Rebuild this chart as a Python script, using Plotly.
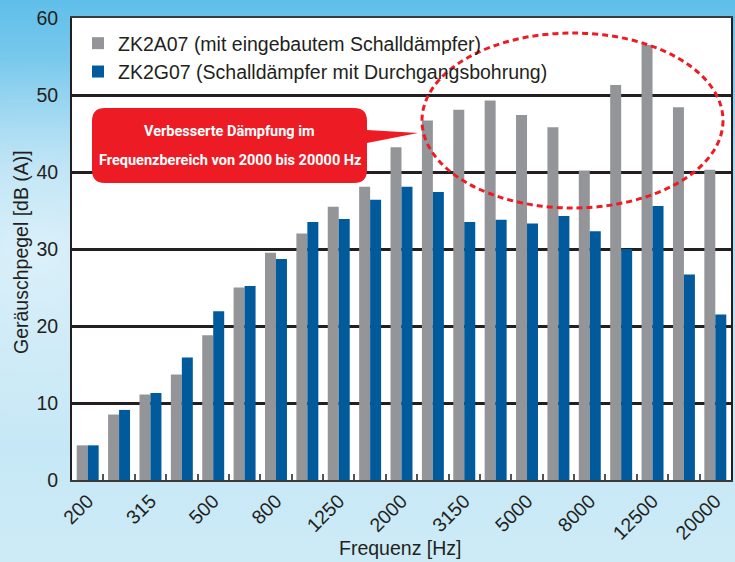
import base64
import plotly.graph_objects as go

# ---------------- data ----------------
freqs = ["200", "250", "315", "400", "500", "630", "800", "1000", "1250", "1600",
         "2000", "2500", "3150", "4000", "5000", "6300", "8000", "10000", "12500",
         "16000", "20000"]
zk2a07 = [4.5, 8.5, 11.1, 13.7, 18.8, 25.0, 29.5, 32.0, 35.5, 38.1, 43.2, 46.7,
          48.1, 49.3, 47.4, 45.8, 40.2, 51.3, 56.5, 48.4, 40.3]
zk2g07 = [4.5, 9.1, 11.3, 15.9, 21.9, 25.2, 28.7, 33.5, 33.9, 36.4, 38.1, 37.4,
          33.5, 33.8, 33.3, 34.3, 32.3, 30.0, 35.6, 26.7, 21.5]
tick_labels = [f if i % 2 == 0 else "" for i, f in enumerate(freqs)]
y_ticks = [0, 10, 20, 30, 40, 50, 60]

name_a = "ZK2A07 (mit eingebautem Schalldämpfer)"
name_g = "ZK2G07 (Schalldämpfer mit Durchgangsbohrung)"
callout_1 = "Verbesserte Dämpfung im"
callout_2 = "Frequenzbereich von 2000 bis 20000 Hz"
x_title = "Frequenz [Hz]"
y_title = "Geräuschpegel [dB (A)]"

# ---------------- geometry helpers ----------------
W, H = 735, 562
L, R, T, B = 72, 4, 18, 82
PW, PH = W - L - R, H - T - B


def px(x):
    return (x - L) / PW


def py(y):
    return (H - B - y) / PH


FONT = "Liberation Sans, Arial, Helvetica, sans-serif"
NARROW = "Roboto, Liberation Sans Narrow, Arial Narrow, sans-serif"
TXT = "#231f20"
GRAY = "#939598"
BLUE = "#005a9c"
RED = "#ed1c24"

fig = go.Figure()
fig.add_trace(go.Bar(x=freqs, y=zk2a07, name=name_a, marker_color=GRAY,
                     marker_line_width=0))
fig.add_trace(go.Bar(x=freqs, y=zk2g07, name=name_g, marker_color=BLUE,
                     marker_line_width=0))

# background gradient (decorative)
svg = f"""<svg xmlns='http://www.w3.org/2000/svg' width='{W}' height='{H}'>
<defs><linearGradient id='g' x1='0' y1='0' x2='0' y2='1'>
<stop offset='0' stop-color='#5fbfe9'/>
<stop offset='0.3' stop-color='#a6daf2'/>
<stop offset='0.7' stop-color='#c3e6f5'/>
<stop offset='1' stop-color='#cdebf7'/>
</linearGradient>
<radialGradient id='w' cx='0.05' cy='0.45' r='0.35'>
<stop offset='0' stop-color='#ffffff' stop-opacity='0.55'/>
<stop offset='1' stop-color='#ffffff' stop-opacity='0'/>
</radialGradient></defs>
<rect width='{W}' height='{H}' fill='url(#g)'/>
<rect width='{W}' height='{H}' fill='url(#w)'/>
</svg>"""
src = "data:image/svg+xml;base64," + base64.b64encode(svg.encode()).decode()

shapes = []
shapes.append(dict(type="rect", xref="paper", yref="paper", x0=0, x1=1, y0=0, y1=1,
                   fillcolor="white", line_width=0, layer="below"))

# callout box (rounded rectangle) + pointer
bx0, bx1, by0, by1, r = 92, 367, 108, 183, 13
path = (f"M{px(bx0 + r)},{py(by0)} L{px(bx1 - r)},{py(by0)} "
        f"Q{px(bx1)},{py(by0)} {px(bx1)},{py(by0 + r)} "
        f"L{px(bx1)},{py(130)} L{px(418)},{py(133)} L{px(bx1)},{py(143)} "
        f"L{px(bx1)},{py(by1 - r)} "
        f"Q{px(bx1)},{py(by1)} {px(bx1 - r)},{py(by1)} "
        f"L{px(bx0 + r)},{py(by1)} Q{px(bx0)},{py(by1)} {px(bx0)},{py(by1 - r)} "
        f"L{px(bx0)},{py(by0 + r)} Q{px(bx0)},{py(by0)} {px(bx0 + r)},{py(by0)} Z")
shapes.append(dict(type="path", xref="paper", yref="paper", path=path,
                   fillcolor=RED, line_width=0, layer="above"))

# dashed ellipse
shapes.append(dict(type="circle", xref="paper", yref="paper",
                   x0=px(422), x1=px(723), y0=py(208), y1=py(33),
                   line=dict(color=RED, width=3, dash="6px,4px"),
                   fillcolor="rgba(0,0,0,0)", layer="above"))

annotations = [
    dict(text=f"<b>{callout_1}</b>", xref="paper", yref="paper",
         x=px(229.5), y=py(131), showarrow=False, xanchor="center", yanchor="middle",
         font=dict(family=NARROW, size=14.5, color="white")),
    dict(text=f"<b>{callout_2}</b>", xref="paper", yref="paper",
         x=px(229.5), y=py(160), showarrow=False, xanchor="center", yanchor="middle",
         font=dict(family=NARROW, size=14.5, color="white")),
    dict(text=x_title, xref="paper", yref="paper", x=px(400), y=py(548),
         showarrow=False, xanchor="center", yanchor="middle",
         font=dict(family=FONT, size=19.5, color=TXT)),
    dict(text=y_title, xref="paper", yref="paper", x=px(21), y=py(252),
         showarrow=False, xanchor="center", yanchor="middle", textangle=-90,
         font=dict(family=FONT, size=19.5, color=TXT)),
]

fig.update_layout(
    width=W, height=H,
    margin=dict(l=L, r=R, t=T, b=B, pad=0, autoexpand=False),
    paper_bgcolor="#b8e2f4",
    plot_bgcolor="white",
    font=dict(family=FONT, size=19.5, color=TXT),
    barmode="group", bargap=0.3, bargroupgap=0,
    showlegend=True,
    legend=dict(x=px(78), y=py(24), xanchor="left", yanchor="top",
                bgcolor="rgba(0,0,0,0)", font=dict(size=19.5, color=TXT),
                tracegroupgap=0, itemclick=False),
    images=[dict(source=src, xref="paper", yref="paper", x=px(0), y=py(0),
                 sizex=W / PW, sizey=H / PH, sizing="stretch", layer="below",
                 xanchor="left", yanchor="top")],
    shapes=shapes,
    annotations=annotations,
)

fig.update_xaxes(
    type="category", tickmode="array", tickvals=freqs, ticktext=tick_labels,
    tickangle=-45, tickson="boundaries", ticks="inside", ticklen=6,
    tickcolor="#555555", tickwidth=1.5, automargin=False,
    showline=True, linecolor="#3a3a3a", linewidth=2, mirror=True,
    showgrid=False,
)
fig.update_yaxes(
    range=[0, 60], tickmode="array", tickvals=y_ticks, ticks="",
    ticklabelstandoff=8, automargin=False,
    showline=True, linecolor=TXT, linewidth=2, mirror=True,
    showgrid=True, gridcolor=TXT, gridwidth=2.5, zeroline=False,
)

fig.write_html("out.html", config={"displayModeBar": False},
               post_script="document.body.style.margin='0';"
                           "document.body.style.overflow='hidden';")
